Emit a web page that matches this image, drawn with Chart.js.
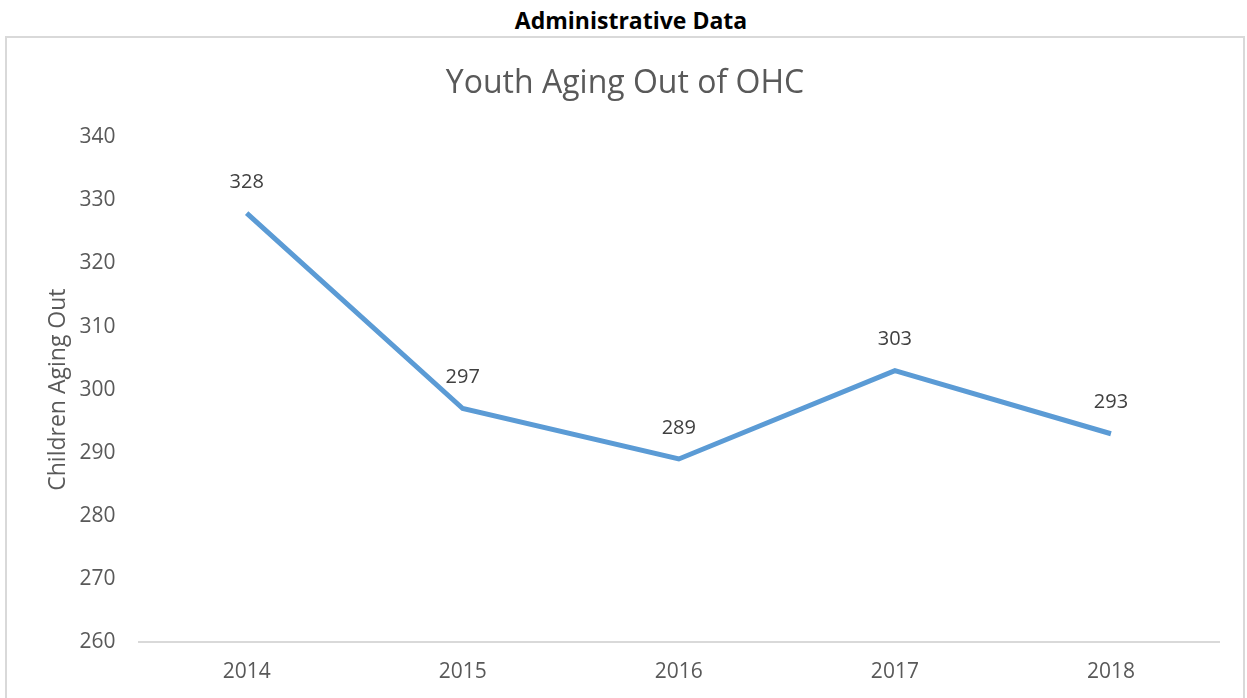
<!DOCTYPE html>
<html>
<head>
<meta charset="utf-8">
<script src="https://cdn.jsdelivr.net/npm/chart.js@4/dist/chart.umd.min.js"></script>
<style>
    body { margin: 0; background: #fff; width: 1247px; height: 698px; overflow: hidden; position: relative; font-family: "Open Sans", sans-serif; }
    #header { position: absolute; left: 0; top: 4px; width: 1262px; text-align: center; font-weight: bold; font-size: 23px; color: #000; }
    #box { position: absolute; left: 5px; top: 36px; width: 1240px; height: 700px; border: 2px solid #d9d9d9; box-sizing: border-box; }
    #wrap { position: absolute; left: 0; top: 0; width: 1247px; height: 698px; }
</style>
</head>
<body>
<div id="header">Administrative Data</div>
<div id="box"></div>
<div id="wrap"><canvas id="agingChart"></canvas></div>
<script>
// Dữ liệu biểu đồ
const years = ["2014", "2015", "2016", "2017", "2018"];
const agingOut = [328, 297, 289, 303, 293];
const yTicks = [260, 270, 280, 290, 300, 310, 320, 330, 340];

const FONT = "'Open Sans', sans-serif";

// Plugin vẽ nhãn giá trị phía trên điểm
const valueLabels = {
    id: "valueLabels",
    afterDatasetsDraw(chart) {
        const ctx = chart.ctx;
        const meta = chart.getDatasetMeta(0);
        ctx.save();
        ctx.font = "20px " + FONT;
        ctx.fillStyle = "#404040";
        ctx.textAlign = "center";
        ctx.textBaseline = "middle";
        meta.data.forEach((pt, i) => {
            ctx.fillText(agingOut[i], pt.x, pt.y - 31);
        });
        ctx.restore();
    }
};

const ctx = document.getElementById("agingChart").getContext("2d");
new Chart(ctx, {
    type: "line",
    data: {
        labels: years,
        datasets: [{
            label: "Children Aging Out",
            data: agingOut,
            borderColor: "#5B9BD5",
            borderWidth: 5,
            pointRadius: 0,
            tension: 0,
            fill: false
        }]
    },
    options: {
        responsive: true,
        maintainAspectRatio: false,
        animation: false,
        layout: { padding: { left: 31, right: 28, top: 65, bottom: 3 } },
        plugins: {
            legend: { display: false },
            tooltip: { enabled: false },
            title: {
                display: true,
                text: "Youth Aging Out of OHC",
                color: "#595959",
                font: { family: FONT, size: 32, weight: "normal" },
                padding: { top: 0, bottom: 34 }
            }
        },
        scales: {
            x: {
                offset: true,
                grid: { display: false },
                border: { display: true, color: "#d9d9d9", width: 2 },
                ticks: {
                    color: "#595959",
                    font: { family: FONT, size: 21 },
                    padding: 10
                }
            },
            y: {
                min: yTicks[0],
                max: yTicks[yTicks.length - 1],
                afterBuildTicks: (axis) => { axis.ticks = yTicks.map(v => ({ value: v })); },
                // kéo tiêu đề trục gần nhãn hơn
                afterFit: (axis) => { axis.width -= 8; },
                grid: { display: false },
                border: { display: false },
                ticks: {
                    color: "#595959",
                    font: { family: FONT, size: 21 },
                    padding: 15
                },
                title: {
                    display: true,
                    text: "Children Aging Out",
                    color: "#595959",
                    font: { family: FONT, size: 23 },
                    padding: { top: 14, bottom: 0 }
                }
            }
        }
    },
    plugins: [valueLabels]
});
</script>
</body>
</html>
